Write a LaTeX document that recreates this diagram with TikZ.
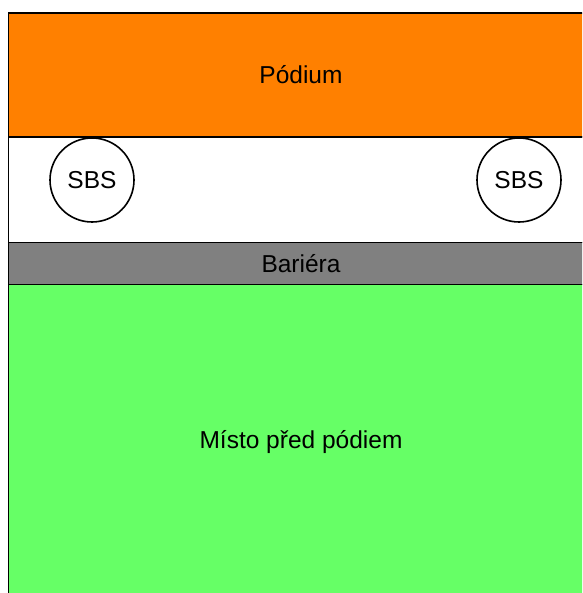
\documentclass[tikz,border=0pt]{standalone}
\usepackage{fontspec}
\setmainfont{Liberation Sans}
\begin{document}
\begin{tikzpicture}[x=1pt,y=-1pt,
  band/.style={draw=black,line width=1.6pt},
  sbs/.style={circle,draw=black,line width=1.6pt,fill=white,minimum size=84pt,inner sep=0pt,font=\fontsize{24.5}{28}\selectfont},
  lbl/.style={font=\fontsize{24.5}{28}\selectfont}]
\definecolor{podium}{HTML}{FF8000}
\definecolor{barrier}{HTML}{808080}
\definecolor{crowd}{HTML}{66FF66}
\useasboundingbox (0,0) rectangle (582,593);
\clip (0,0) rectangle (582,593);
\fill[white] (0,0) rectangle (582,593);
\draw[band,fill=podium] (8.5,13) rectangle (600,137);
\draw[band,fill=white] (8.5,137) rectangle (600,242.5);
\draw[band,fill=barrier] (8.5,242.5) rectangle (600,284.5);
\draw[band,fill=crowd] (8.5,284.5) rectangle (600,600);
\node[lbl] (pod) at (301,75) {Pódium};
\node[lbl] (bar) at (301,264) {Bariéra};
\node[lbl] (mis) at (301,442) {Místo před pódiem};
\node[sbs] (s1) at (92,180) {SBS};
\node[sbs] (s2) at (519,180) {SBS};
\end{tikzpicture}
\end{document}
